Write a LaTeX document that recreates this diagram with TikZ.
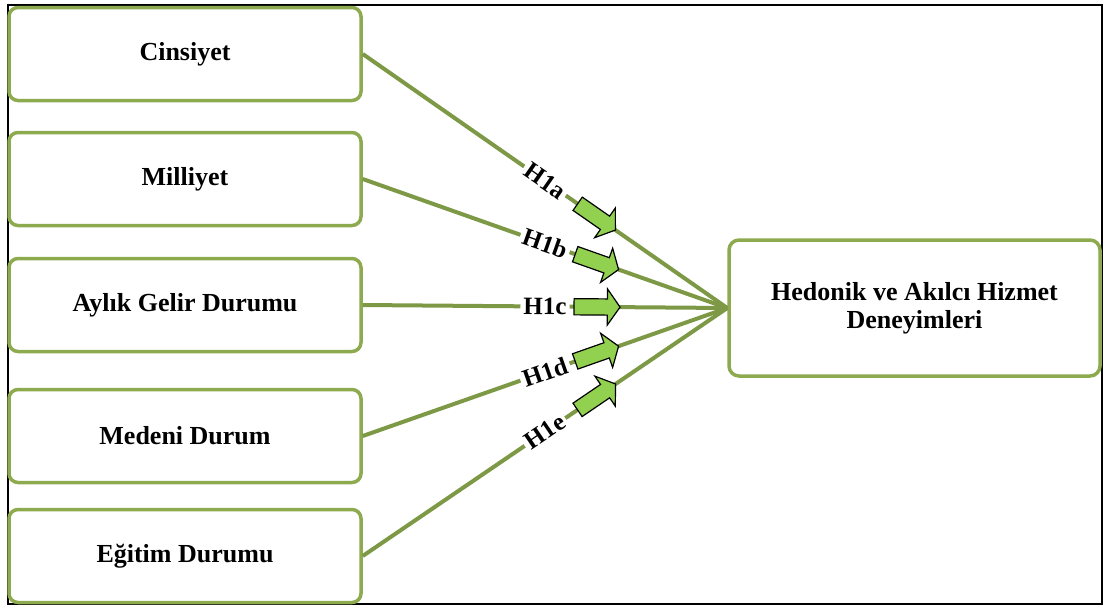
\documentclass[tikz,border=0pt]{standalone}
\usepackage{fontspec}
\setmainfont{Liberation Serif}
\usetikzlibrary{shapes.arrows}
\definecolor{boxgreen}{RGB}{141,170,79}
\definecolor{linkgreen}{RGB}{125,153,70}
\definecolor{arrowfill}{RGB}{146,208,80}
\begin{document}
\begin{tikzpicture}[x=1pt,y=-1pt,
  factor/.style={draw=boxgreen, line width=3.5pt, rounded corners=9pt, fill=white,
    font=\fontsize{26}{28}\selectfont\bfseries, align=center, inner sep=0pt,
    minimum width=352pt, minimum height=93pt},
  outcome/.style={draw=boxgreen, line width=3.5pt, rounded corners=10pt, fill=white,
    font=\fontsize{26}{28}\selectfont\bfseries, align=center, inner sep=0pt,
    minimum width=371pt, minimum height=136pt},
  link/.style={draw=linkgreen, line width=4pt},
  hyp/.style={fill=white, font=\fontsize{25}{27}\selectfont\bfseries, inner sep=3pt,
    sloped, pos=0.5},
  hyparrow/.style={single arrow, draw=black, fill=arrowfill, line width=1.2pt,
    inner xsep=0pt, inner ysep=7.5pt, text height=0pt, text depth=0pt,
    minimum height=46pt, single arrow head extend=10pt, single arrow tip angle=110,
    sloped, pos=0.635}
]
\useasboundingbox (0,0) rectangle (1105,606);
% outer frame
\draw[line width=1.2pt] (8,5) rectangle (1102,604);

% demographic factors
\node[factor] (cins) at (185,54)    {Cinsiyet};
\node[factor] (mill) at (185,179)   {Milliyet};
\node[factor] (gelir) at (185,305)  {Aylık Gelir Durumu};
\node[factor] (medeni) at (185,436) {Medeni Durum};
\node[factor] (egitim) at (185,556) {Eğitim Durumu};

% outcome
\node[outcome] (hed) at (914.5,308) {Hedonik ve Akılcı Hizmet\\Deneyimleri};

% hypotheses
\draw[link] (cins.east)   -- node[hyp]{H1a} node[hyparrow]{} (hed.west);
\draw[link] (mill.east)   -- node[hyp]{H1b} node[hyparrow]{} (hed.west);
\draw[link] (gelir.east)  -- node[hyp]{H1c} node[hyparrow]{} (hed.west);
\draw[link] (medeni.east) -- node[hyp]{H1d} node[hyparrow]{} (hed.west);
\draw[link] (egitim.east) -- node[hyp]{H1e} node[hyparrow]{} (hed.west);
\end{tikzpicture}
\end{document}
